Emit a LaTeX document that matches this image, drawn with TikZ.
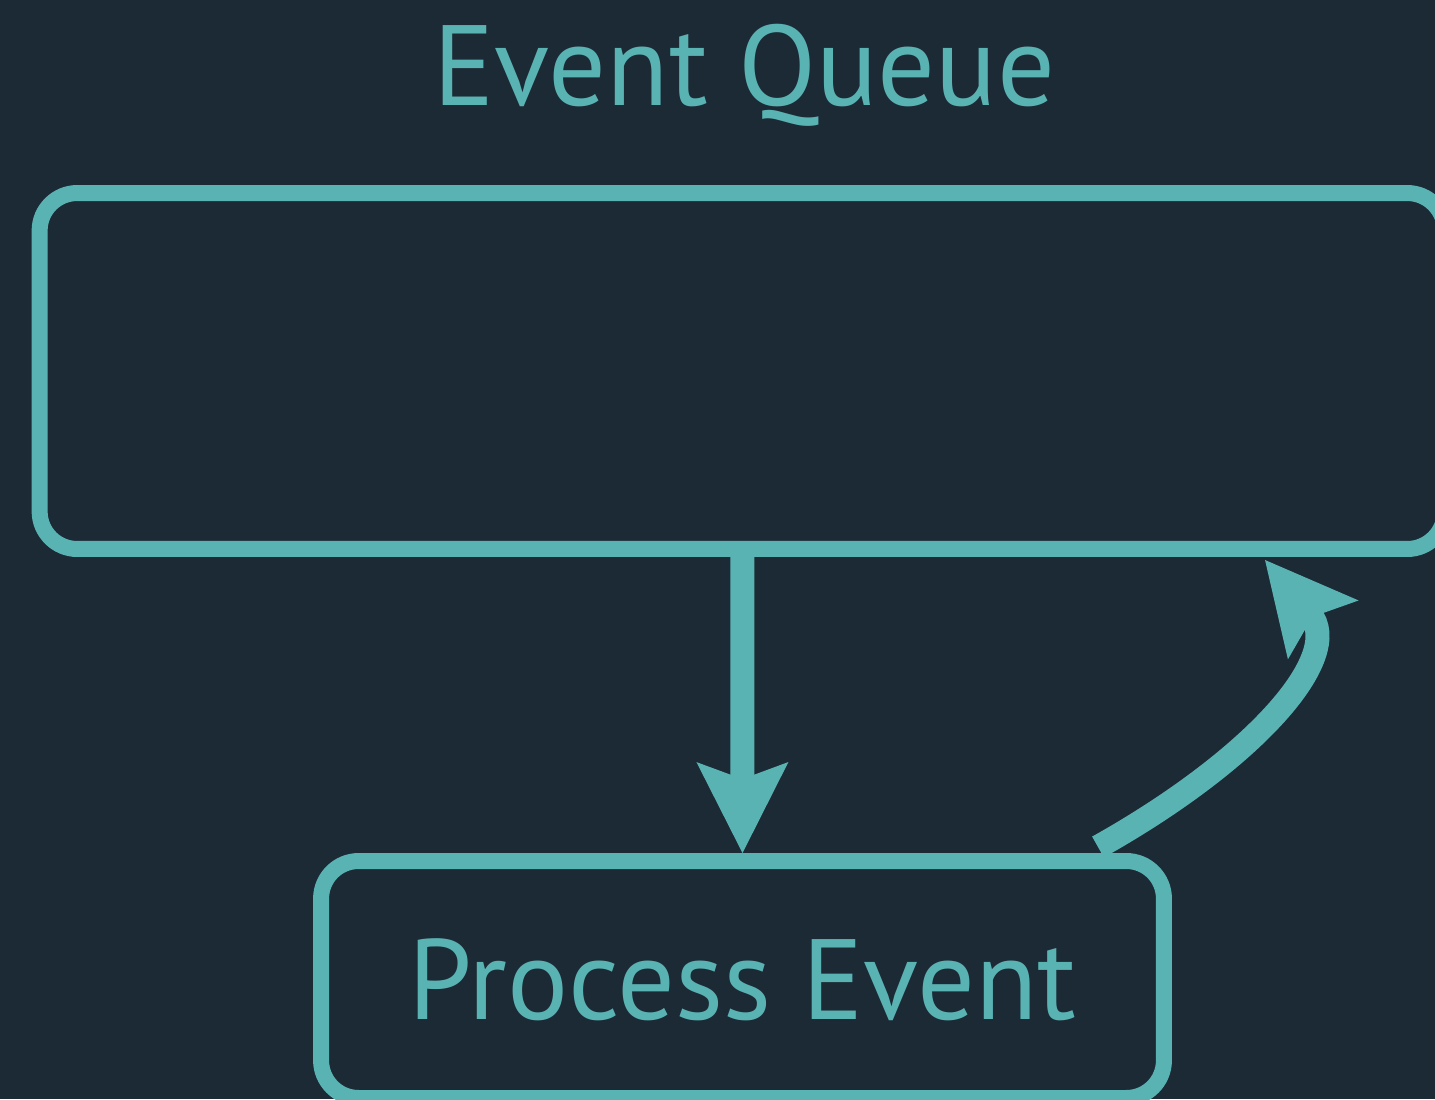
\documentclass[tikz,border=0pt]{standalone}
\usepackage{fontspec}
\setmainfont{PT Sans}
\usetikzlibrary{arrows.meta,calc}
\definecolor{bgc}{RGB}{28,42,53}
\definecolor{tealc}{RGB}{90,179,179}
\begin{document}
\begin{tikzpicture}[x=0.02cm,y=-0.02cm,
  box/.style={draw=tealc, line width=0.32cm, rounded corners=0.75cm},
  conn/.style={draw=tealc, line width=0.48cm,
    -{Stealth[length=1.82cm,width=1.84cm,inset=0.34cm,line width=0pt]}},
  lbl/.style={text=tealc, font=\fontsize{65}{78}\selectfont}]
\useasboundingbox (0,0) rectangle (1435,1099);
\clip (0,0) rectangle (1435,1099);
\fill[bgc] (0,0) rectangle (1435,1099);
\node[box, minimum width=28.11cm, minimum height=7.12cm] (queue) at (742.25,371) {};
\node[lbl, anchor=base] (title) at (744.5,105) {Event Queue};
\node[box, lbl, inner sep=0pt, minimum width=16.86cm, minimum height=4.74cm] (proc) at (742.5,979.5) {Process Event};
\draw[conn] (queue.south) -- (proc.north);
\coordinate (s) at (1098,847);
\coordinate (e) at (1310,614);
\coordinate (t) at (1265,560);
\draw[conn] (s) .. controls (1255,759) and (1345,656) .. (e) -- (t);
\end{tikzpicture}
\end{document}
